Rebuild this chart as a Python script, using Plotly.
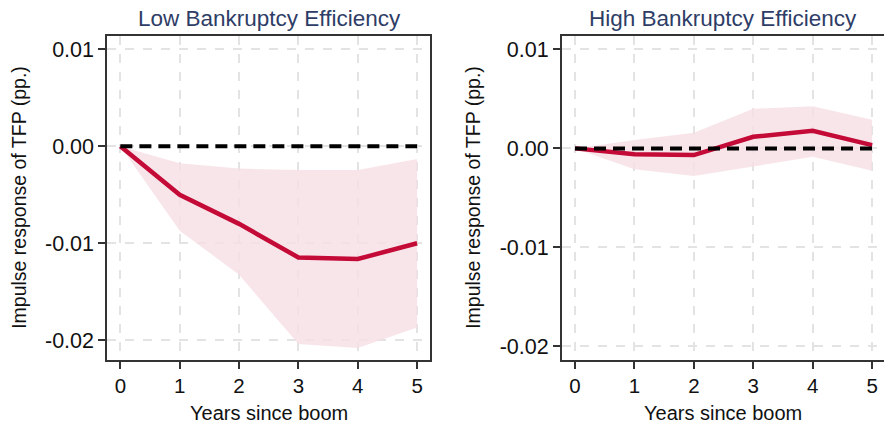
import plotly.graph_objects as go

# Horizons (years since the credit boom)
years = [0, 1, 2, 3, 4, 5]
tick_labels = ["0", "1", "2", "3", "4", "5"]

# Low bankruptcy efficiency: point estimate and confidence band
low_irf = [0.0, -0.0050, -0.0080, -0.01147, -0.01163, -0.0100]
low_upper = [0.0, -0.00175, -0.0023, -0.00244, -0.00244, -0.0013]
low_lower = [0.0, -0.0087, -0.01325, -0.0204, -0.0208, -0.0187]

# High bankruptcy efficiency: point estimate and confidence band
high_irf = [0.0, -0.0006, -0.00068, 0.00117, 0.00178, 0.00033]
high_upper = [0.0, 0.00084, 0.00158, 0.0040, 0.00427, 0.0029]
high_lower = [0.0, -0.0021, -0.0028, -0.0018, -0.00085, -0.00226]

zero_line = [0.0] * len(years)

y_ticks = [0.01, 0.0, -0.01, -0.02]
y_tick_text = ["0.01", "0.00", "-0.01", "-0.02"]

LINE = "#C40A37"
BAND = "rgba(246,222,228,0.8)"
TITLE_COLOR = "#2E3D66"
AXIS_COLOR = "#333333"
TEXT = "#111111"
GRID = "#E3E3E3"
FONT = "Arial, Liberation Sans, sans-serif"

W, H = 884, 425
fig = go.Figure()


def add_panel(xa, ya, irf, upper, lower):
    fig.add_trace(go.Scatter(x=years, y=upper, mode="lines", line=dict(width=0),
                             hoverinfo="skip", showlegend=False, xaxis=xa, yaxis=ya))
    fig.add_trace(go.Scatter(x=years, y=lower, mode="lines", line=dict(width=0),
                             fill="tonexty", fillcolor=BAND,
                             hoverinfo="skip", showlegend=False, xaxis=xa, yaxis=ya))
    fig.add_trace(go.Scatter(x=years, y=irf, mode="lines",
                             line=dict(color=LINE, width=4.5),
                             showlegend=False, xaxis=xa, yaxis=ya))
    fig.add_trace(go.Scatter(x=years, y=zero_line, mode="lines",
                             line=dict(color="black", width=4, dash="12px,7px"),
                             showlegend=False, xaxis=xa, yaxis=ya))


add_panel("x", "y", low_irf, low_upper, low_lower)
add_panel("x2", "y2", high_irf, high_upper, high_lower)

ydom = [0.154, 0.915]

xaxis_common = dict(
    tickvals=years, ticktext=tick_labels,
    ticks="outside", ticklen=7, tickwidth=1.5, tickcolor=AXIS_COLOR,
    showline=True, linecolor=AXIS_COLOR, linewidth=2, mirror=True,
    showgrid=True, gridcolor=GRID, gridwidth=1.5, griddash="dash",
    zeroline=False,
    tickfont=dict(family=FONT, size=20.5, color=TEXT),
    fixedrange=True,
)
yaxis_common = dict(
    tickvals=y_ticks, ticktext=y_tick_text,
    ticks="outside", ticklen=7, tickwidth=1.5, tickcolor=AXIS_COLOR,
    showline=True, linecolor=AXIS_COLOR, linewidth=2,
    showgrid=True, gridcolor=GRID, gridwidth=1.5, griddash="dash",
    zeroline=False,
    tickfont=dict(family=FONT, size=21.5, color=TEXT),
    domain=ydom, fixedrange=True,
)

ymid = (ydom[0] + ydom[1]) / 2


def text_note(text, xpx, ypx, size, color, angle=0):
    return dict(text=text, x=xpx / W, y=1 - ypx / H, xref="paper", yref="paper",
                xanchor="center", yanchor="middle", showarrow=False, textangle=angle,
                font=dict(family=FONT, size=size, color=color))


fig.update_layout(
    width=W, height=H,
    margin=dict(l=0, r=0, t=0, b=0),
    paper_bgcolor="white", plot_bgcolor="white",
    font=dict(family=FONT),
    xaxis=dict(xaxis_common, domain=[0.1214, 0.4864], range=[-0.22, 5.217], anchor="y"),
    yaxis=dict(yaxis_common, range=[-0.0220, 0.01137], anchor="x", mirror=True),
    xaxis2=dict(xaxis_common, domain=[0.6357, 1.0], range=[-0.22, 5.2], anchor="y2"),
    yaxis2=dict(yaxis_common, range=[-0.02135, 0.01135], anchor="x2", mirror=False),
    annotations=[
        text_note("Low Bankruptcy Efficiency", 269.5, 18.5, 22.5, TITLE_COLOR),
        text_note("High Bankruptcy Efficiency", 723, 18.5, 22.5, TITLE_COLOR),
        text_note("Years since boom", 269, 413, 20, TEXT),
        text_note("Years since boom", 723, 413, 20, TEXT),
        text_note("Impulse response of TFP (pp.)", 19, H * (1 - ymid), 19.5, TEXT, -90),
        text_note("Impulse response of TFP (pp.)", 473, H * (1 - ymid), 19.5, TEXT, -90),
    ],
)

fig.write_html("out.html")
